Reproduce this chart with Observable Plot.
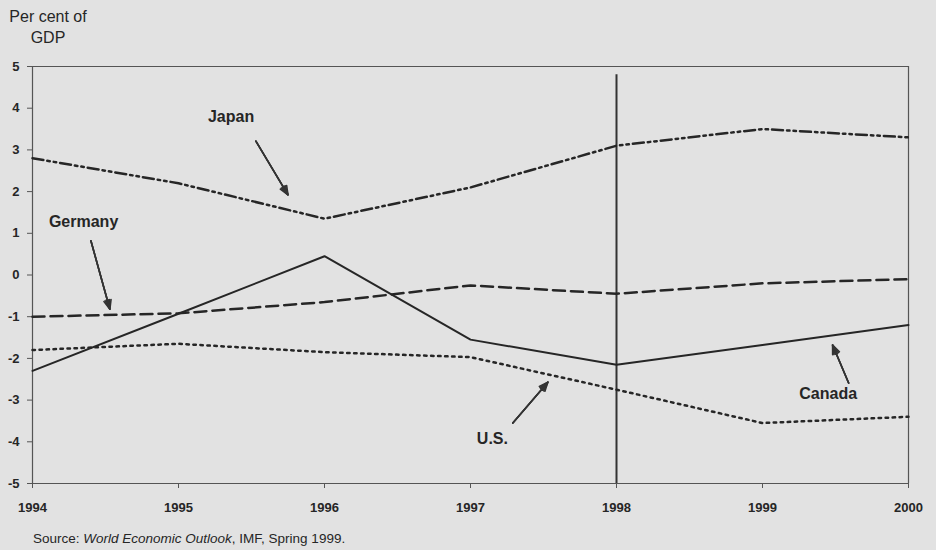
<!DOCTYPE html>
<html>
<head>
<meta charset="utf-8">
<script src="https://cdn.jsdelivr.net/npm/d3@7"></script>
<script src="https://cdn.jsdelivr.net/npm/@observablehq/plot@0.6"></script>
<style>
  html, body { margin: 0; padding: 0; background: #e2e2e2; }
  #wrap { position: relative; width: 936px; height: 550px; overflow: hidden;
          font-family: "Liberation Sans", Arial, sans-serif; color: #262626; }
  #ytitle { position: absolute; left: -2px; top: 6px; width: 100px; text-align: center;
            font-size: 16px; line-height: 21px; }
  #ytitle span { display: block; }
  #caption { position: absolute; left: 33px; top: 531px; font-size: 13.5px; white-space: nowrap; }
</style>
</head>
<body>
<div id="wrap">
  <div id="chart"></div>
  <div id="ytitle"><span>Per cent of</span><span>GDP</span></div>
  <div id="caption">Source: <i>World Economic Outlook</i>, IMF, Spring 1999.</div>
</div>
<script>
const years   = [1994, 1995, 1996, 1997, 1998, 1999, 2000];
const japan   = [2.8, 2.2, 1.35, 2.1, 3.1, 3.5, 3.3];
const germany = [-1.0, -0.92, -0.65, -0.25, -0.45, -0.2, -0.1];
const us      = [-1.8, -1.65, -1.85, -1.97, -2.75, -3.55, -3.4];
const canada  = [-2.3, -0.93, 0.45, -1.55, -2.15, -1.68, -1.2];
const yTicks  = [-5, -4, -3, -2, -1, 0, 1, 2, 3, 4, 5];

// annotation anchors (data units)
const labelNames = ["Japan", "Germany", "U.S.", "Canada"];
const labelX     = [1995.36, 1994.35, 1997.15, 1999.45];
const labelY     = [3.79, 1.27, -3.93, -2.85];
const arrowX1    = [1995.53, 1994.40, 1997.29, 1999.59];
const arrowY1    = [3.21, 0.82, -3.55, -2.59];
const arrowX2    = [1995.75, 1994.53, 1997.53, 1999.48];
const arrowY2    = [1.92, -0.82, -2.57, -1.68];

const rows = vals => years.map((year, i) => ({year, value: vals[i]}));
const notes = labelNames.map((label, i) => ({label, x: labelX[i], y: labelY[i]}));
const arrows = labelNames.map((label, i) => ({x1: arrowX1[i], y1: arrowY1[i], x2: arrowX2[i], y2: arrowY2[i]}));

const ink = "#262626";
const arrowOpts = angle => ({x1: "x1", y1: "y1", x2: "x2", y2: "y2", stroke: "#333", strokeWidth: 1.6, headLength: 9, headAngle: angle});
const chart = Plot.plot({
  width: 936,
  height: 550,
  marginLeft: 32,
  marginRight: 28,
  marginTop: 66,
  marginBottom: 67,
  style: {background: "#e2e2e2", fontFamily: "'Liberation Sans', Arial, sans-serif", color: ink, overflow: "visible"},
  x: {domain: [1994, 2000]},
  y: {domain: [-5, 5]},
  marks: [
    Plot.ruleY([5], {stroke: "#555", strokeWidth: 1.2}),
    Plot.ruleX([2000], {stroke: "#555", strokeWidth: 1.2}),
    Plot.ruleX([1994], {stroke: "#555", strokeWidth: 1.2}),
    Plot.ruleY([-5], {stroke: "#555", strokeWidth: 1.2}),
    Plot.ruleX([1998], {y1: 4.8, y2: -5, stroke: "#333", strokeWidth: 2}),
    Plot.axisY({ticks: yTicks, tickFormat: d => String(d), tickSize: 5, tickPadding: 8,
                fontWeight: "bold", fontSize: 13, label: null, stroke: "#555"}),
    Plot.axisX({ticks: years, tickFormat: d => String(d), tickSize: 5, tickPadding: 14,
                fontWeight: "bold", fontSize: 13, label: null, stroke: "#555"}),
    Plot.line(rows(japan), {x: "year", y: "value", stroke: ink, strokeWidth: 2.5, strokeDasharray: "11,4,2.5,4,2.5,4"}),
    Plot.line(rows(germany), {x: "year", y: "value", stroke: ink, strokeWidth: 2.5, strokeDasharray: "12,6"}),
    Plot.line(rows(us), {x: "year", y: "value", stroke: ink, strokeWidth: 2.5, strokeDasharray: "2.5,4.5"}),
    Plot.line(rows(canada), {x: "year", y: "value", stroke: ink, strokeWidth: 2}),
    Plot.arrow(arrows, arrowOpts(45)),
    Plot.arrow(arrows, arrowOpts(30)),
    Plot.arrow(arrows, arrowOpts(15)),
    Plot.text(notes, {x: "x", y: "y", text: "label", fontWeight: "bold", fontSize: 16, fill: ink})
  ]
});
document.getElementById("chart").appendChild(chart);
</script>
</body>
</html>
